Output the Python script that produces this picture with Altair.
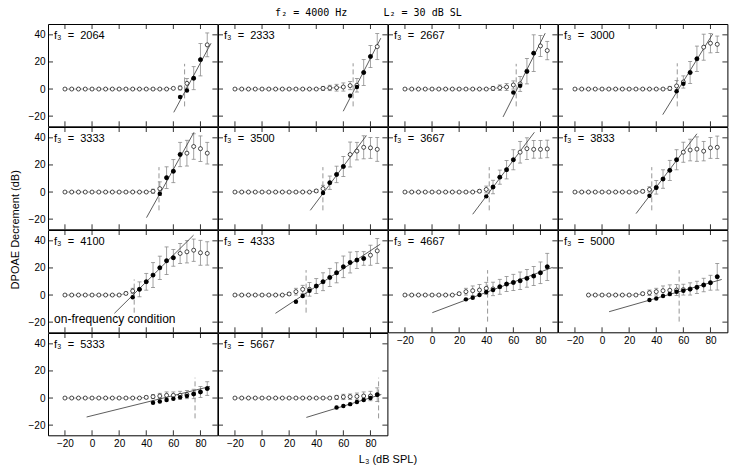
import altair as alt
import pandas as pd

F3 = [2064, 2333, 2667, 3000, 3333, 3500, 3667, 3833, 4100, 4333, 4667, 5000, 5333, 5667]
L3 = [-20, -15, -10, -5, 0, 5, 10, 15, 20, 25, 30, 35, 40, 45, 50, 55, 60, 65, 70, 75, 80, 85]

Z = 0.0
OPEN_Y = [
    [Z]*16 + [0.5, 0.8, 4.2, 8.0, 21.7, 32.6],
    [Z]*13 + [0.5, 0.8, 1.0, 1.5, 2.5, 2.8, 12.2, 24.0, 31.3],
    [Z]*13 + [0.5, 1.0, 1.5, 3.0, 3.8, 13.2, 26.5, 31.8, 28.4],
    [Z]*14 + [0.5, 2.3, 5.2, 12.2, 22.3, 30.9, 33.8, 33.0],
    [Z]*13 + [0.6, 2.5, 10.6, 15.4, 27.7, 28.7, 33.6, 32.0, 28.7],
    [Z]*12 + [0.8, 2.5, 6.9, 13.0, 18.9, 27.7, 30.2, 33.0, 32.6, 31.5],
    [Z]*11 + [0.6, 1.9, 3.7, 11.0, 16.5, 23.8, 29.4, 32.0, 31.5, 31.5, 31.8],
    [Z]*10 + [0.5, 1.9, 3.5, 9.6, 16.0, 23.8, 29.4, 31.0, 31.7, 30.2, 32.6, 33.0],
    [Z]*9 + [1.2, 3.0, 4.2, 9.8, 14.7, 20.1, 25.3, 27.5, 30.7, 31.9, 33.1, 31.2, 30.7],
    [Z]*8 + [0.8, 2.5, 4.2, 4.2, 6.6, 9.8, 13.0, 16.4, 20.8, 24.0, 25.8, 27.0, 29.4, 32.6],
    [Z]*8 + [1.0, 2.5, 3.2, 3.7, 4.9, 4.5, 6.1, 8.1, 9.3, 10.5, 12.3, 14.0, 16.4, 20.8],
    [None, None] + [Z]*8 + [1.0, 1.7, 2.5, 3.2, 3.5, 3.7, 4.0, 4.5, 5.7, 7.4, 9.1, 13.5],
    [Z]*12 + [0.5, 1.0, 1.5, 2.0, 2.0, 2.0, 2.5, 3.0, 4.5, 7.0],
    [Z]*15 + [0.5, 0.8, 1.0, 1.2, 1.5, 1.5, 2.5],
]
OPEN_ERR = [
    [Z]*16 + [0, 1.5, 3.5, 8.5, 12, 8.8],
    [Z]*13 + [1.5, 2, 2.5, 3, 3, 5, 9.5, 8.2, 9.6],
    [Z]*13 + [1.5, 2, 2.5, 3, 5.5, 9.4, 13.5, 7.7, 6.8],
    [Z]*14 + [1.5, 4, 4.5, 8.2, 9.4, 9.6, 7.1, 6.1],
    [Z]*13 + [1.5, 5, 8, 8.5, 9, 9.5, 9.4, 9.4, 8],
    [Z]*12 + [1, 2.5, 4.9, 6.1, 7.4, 9.2, 6.5, 8.5, 7.7, 8.8],
    [Z]*11 + [1, 2.5, 5, 5.2, 6.8, 7.4, 8, 8, 6.5, 6.5, 6.5],
    [Z]*10 + [1, 2, 5, 6.8, 7.4, 7.4, 7.4, 8, 9, 7.2, 7.7, 8.3],
    [Z]*9 + [1, 2, 5.5, 6.2, 9.2, 8.6, 10.2, 6.2, 7.4, 8.2, 8.2, 9.2, 8.6],
    [Z]*8 + [1, 2.5, 3, 5, 5.5, 6.6, 6.7, 7.4, 8, 7.7, 6.2, 5, 7.4, 9.2],
    [Z]*8 + [1, 2.5, 3.5, 4, 4.5, 5, 5.5, 5.5, 6, 6.5, 6.5, 7, 8, 10],
    [Z]*10 + [1, 2, 2.5, 3.5, 4, 4, 4, 4.5, 4.5, 5, 5.5, 9.8],
    [Z]*12 + [1, 1.5, 2, 2.5, 2.5, 3, 3, 3.5, 4, 5],
    [Z]*15 + [1.5, 2, 2, 2.5, 3, 3.5, 5],
]
FILLED_X = [
    [65, 70, 75, 80],
    [65, 70, 75, 80],
    [60, 65, 70, 75],
    [55, 60, 65, 70],
    [50, 55, 60, 65],
    [45, 50, 55, 60],
    [40, 45, 50, 55, 60],
    [35, 40, 45, 50, 55],
    [30, 35, 40, 45, 50, 55, 60],
    [25, 30, 35, 40, 45, 50, 55, 60, 65, 70, 75],
    [25, 30, 35, 40, 45, 50, 55, 60, 65, 70, 75, 80, 85],
    [35, 40, 45, 50, 55, 60, 65, 70, 75, 80, 85],
    [45, 50, 55, 60, 65, 70, 75, 80, 85],
    [55, 60, 65, 70, 75, 80, 85],
]
FILLED_Y = [
    [-5.9, -1.0, 8.0, 21.7],
    [-4.9, 1.5, 12.2, 24.0],
    [-2.5, 2.4, 13.0, 26.5],
    [-1.7, 3.9, 12.2, 22.3],
    [-1.2, 10.6, 15.4, 27.7],
    [-0.7, 6.9, 13.0, 18.9],
    [-3.2, 3.7, 11.0, 16.5, 23.8],
    [-2.7, 3.2, 9.6, 16.0, 23.8],
    [-1.7, 4.2, 9.8, 14.7, 20.1, 25.3, 27.5],
    [-4.9, -0.7, 3.2, 6.6, 9.8, 13.0, 16.4, 20.8, 24.0, 25.8, 27.0],
    [-3.2, -2.0, 0.0, 2.2, 3.7, 6.1, 8.1, 9.3, 10.5, 12.3, 14.0, 16.4, 20.8],
    [-3.7, -2.5, -0.7, 0.7, 2.5, 3.2, 4.2, 5.7, 7.4, 9.1, 13.5],
    [-3.5, -2.5, -1.5, -0.5, 0.5, 1.5, 3.0, 4.5, 7.0],
    [-7.0, -5.8, -4.5, -3.0, -1.5, 0.0, 2.5],
]
REG_X = [
    [60.3, 87.8], [59.9, 87.6], [52.4, 83.5], [44.8, 81.7],
    [40.2, 75.2], [35.6, 77.0], [30.0, 75.5], [25.1, 70.0],
    [16.5, 74.9], [9.9, 87.2], [0.2, 88.9], [5.2, 88.3],
    [-4.0, 87.0], [32.7, 88.0],
]
REG_Y = [
    [-17.2, 33.8], [-16.4, 37.5], [-20.6, 41.2], [-18.9, 40.7],
    [-18.9, 44.1], [-13.5, 41.7], [-16.4, 44.1], [-15.9, 43.0],
    [-13.5, 44.2], [-13.5, 37.5], [-13.0, 20.4], [-12.3, 11.5],
    [-14.0, 8.5], [-14.3, 2.6],
]
DASH_X = [68.3, 67.2, 62.1, 55.5, 49.4, 44.9, 42.2, 36.7, 31.1, 32.5, 41.0, 56.9, 76.0, 86.0]
DASH_Y = [
    [-12.8, 18.6], [-12.8, 19.0], [-12.8, 18.6], [-12.8, 19.0],
    [-13.5, 18.4], [-13.5, 18.4], [-13.5, 18.4], [-13.5, 18.4],
    [-13.0, 11.5], [-13.0, 18.4], [-19.6, 18.4], [-19.6, 18.4],
    [-15.0, 15.0], [-15.0, 15.0],
]
ANNOT_TEXT = ["on-frequency condition"]
ANNOT_X = [-28.0]
ANNOT_Y = [-18.0]
ANNOT_PANEL = 8

X_TICKS = [-20, 0, 20, 40, 60, 80]
Y_TICKS = [-20, 0, 20, 40]

W, H = 169.4, 102.3
TL = 5
FONT = "Liberation Sans"
XS = alt.Scale(domain=[-32.5, 92.5], nice=False, zero=False)
YS = alt.Scale(domain=[-27.5, 48], nice=False, zero=False)
NB = "\u00a0"


def make_panel(i):
    row, col = divmod(i, 4)
    show_y = col == 0
    show_x = row == 3 or (row == 2 and col >= 2)
    if show_x:
        kw = dict(values=X_TICKS, ticks=False, domain=False, grid=False, labelPadding=3,
                  labelFontSize=10, labelFont=FONT, labelColor="black", title=None)
        if i == 13:
            kw.update(title="L\u2083 (dB SPL)", titleX=W, titleFontSize=11, titleFont=FONT,
                      titleFontWeight="normal", titlePadding=5, titleColor="black")
        xa = alt.Axis(**kw)
    else:
        xa = None
    if show_y:
        kw = dict(values=Y_TICKS, ticks=False, domain=False, grid=False, labelPadding=3,
                  labelFontSize=10, labelFont=FONT, labelColor="black", title=None)
        if i == 4:
            kw.update(title="DPOAE Decrement (dB)", titleY=H, titleFontSize=11, titleFont=FONT,
                      titleFontWeight="normal", titlePadding=8, titleColor="black")
        ya = alt.Axis(**kw)
    else:
        ya = None

    def X(f):
        return alt.X(f, type="quantitative", scale=XS, axis=xa)

    def Y(f):
        return alt.Y(f, type="quantitative", scale=YS, axis=ya)

    pts = [(x, y, e) for x, y, e in zip(L3, OPEN_Y[i], OPEN_ERR[i]) if y is not None]
    df_open = pd.DataFrame(pts, columns=["x", "y", "e"])
    df_err = df_open[df_open.e > 0].copy()
    df_err["lo"] = df_err.y - df_err.e
    df_err["hi"] = df_err.y + df_err.e
    df_caps = pd.concat([
        pd.DataFrame({"x": df_err.x, "y": df_err.lo}),
        pd.DataFrame({"x": df_err.x, "y": df_err.hi}),
    ])
    first_f = min(FILLED_X[i])
    df_conn = df_open[df_open.x < first_f]
    df_fill = pd.DataFrame({"x": FILLED_X[i], "y": FILLED_Y[i]})
    df_reg = pd.DataFrame({"x": REG_X[i], "y": REG_Y[i]})
    df_dash = pd.DataFrame({"x": [DASH_X[i]], "y": [DASH_Y[i][0]], "y2": [DASH_Y[i][1]]})
    df_xt = pd.DataFrame({"v": X_TICKS})
    df_yt = pd.DataFrame({"v": Y_TICKS})

    layers = []
    layers.append(alt.Chart(df_err).mark_rule(color="#8a8a8a", strokeWidth=0.8).encode(
        x=X("x"), y=Y("lo"), y2="hi"))
    layers.append(alt.Chart(df_caps).mark_tick(orient="horizontal", size=4, thickness=0.8,
                                                color="#8a8a8a", opacity=1).encode(x=X("x"), y=Y("y")))
    layers.append(alt.Chart(df_conn).mark_line(color="#777777", strokeWidth=0.7).encode(
        x=X("x"), y=Y("y")))
    layers.append(alt.Chart(df_dash).mark_rule(color="#8a8a8a", strokeWidth=0.9,
                                                strokeDash=[5, 3]).encode(x=X("x"), y=Y("y"), y2="y2"))
    layers.append(alt.Chart(df_reg).mark_line(color="#333333", strokeWidth=0.8).encode(
        x=X("x"), y=Y("y")))
    layers.append(alt.Chart(df_open).mark_point(shape="circle", size=16, fill="white", stroke="black",
                                                 strokeWidth=0.7, opacity=1).encode(x=X("x"), y=Y("y")))
    layers.append(alt.Chart(df_fill).mark_point(shape="circle", size=20, filled=True, color="black",
                                                 opacity=1).encode(x=X("x"), y=Y("y")))
    label = "f\u2083" + NB + NB + "=" + NB + NB + str(F3[i])
    layers.append(alt.Chart(pd.DataFrame({"t": [label]})).mark_text(
        align="left", baseline="middle", fontSize=11, font=FONT, color="black").encode(
        x=alt.value(6), y=alt.value(12), text="t:N"))
    if i == ANNOT_PANEL:
        df_an = pd.DataFrame({"x": ANNOT_X, "y": ANNOT_Y, "t": ANNOT_TEXT})
        layers.append(alt.Chart(df_an).mark_text(align="left", baseline="middle", fontSize=12,
                                                  font=FONT, color="black").encode(
            x=X("x"), y=Y("y"), text="t:N"))
    tick = dict(color="black", strokeWidth=0.8)
    layers.append(alt.Chart(df_xt).mark_rule(**tick).encode(x=X("v"), y=alt.value(H), y2=alt.value(H - TL)))
    layers.append(alt.Chart(df_xt).mark_rule(**tick).encode(x=X("v"), y=alt.value(0), y2=alt.value(TL)))
    layers.append(alt.Chart(df_yt).mark_rule(**tick).encode(y=Y("v"), x=alt.value(0), x2=alt.value(TL)))
    layers.append(alt.Chart(df_yt).mark_rule(**tick).encode(y=Y("v"), x=alt.value(W), x2=alt.value(W - TL)))
    return alt.layer(*layers).properties(width=W, height=H)


panels = [make_panel(i) for i in range(len(F3))]
title_text = "f\u2082" + NB + "=" + NB + "4000" + NB + "Hz" + NB * 6 + "L\u2082" + NB + "=" + NB + "30" + NB + "dB" + NB + "SL"
chart = alt.concat(*panels, columns=4, spacing=0, bounds="flush",
                   title=alt.TitleParams(title_text, font="DejaVu Sans Mono", fontSize=10,
                                         fontWeight="normal", anchor="middle", offset=5, color="black")
                   ).properties(padding=0).configure_view(stroke="black", strokeWidth=1)

chart.save("out.html", embed_options={"renderer": "svg", "actions": False})
